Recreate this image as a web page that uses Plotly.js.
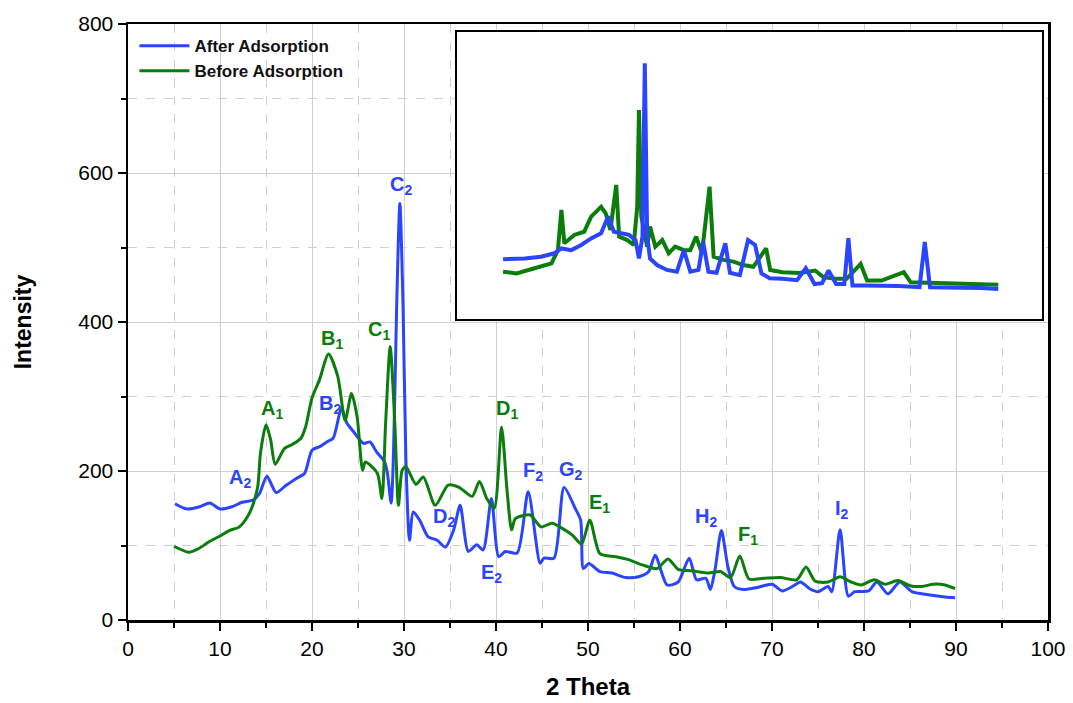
<!DOCTYPE html>
<html>
<head>
<meta charset="utf-8">
<script src="https://cdn.plot.ly/plotly-3.0.1.min.js"></script>
<style>html,body{margin:0;padding:0;background:#fff;}#chart{width:1073px;height:703px;}</style>
</head>
<body>
<div id="chart"></div>
<script>
// Main chart: After Adsorption (blue)
var afterX = [5.1,6.4,7.8,8.9,10.0,11.3,12.4,13.6,14.3,15.1,16.1,17.2,18.3,19.2,20.0,20.9,21.6,22.3,23.2,23.8,24.5,25.6,26.3,27.0,27.9,28.2,28.6,28.85,29.2,29.55,29.9,30.2,30.6,31.0,31.7,32.6,33.6,34.5,35.4,36.1,37.0,37.9,38.6,39.5,40.3,41.0,42.3,43.5,44.8,45.2,46.3,47.4,48.6,49.2,49.5,50.1,51.3,52.6,54.1,55.5,56.6,57.3,58.6,59.8,61.0,61.8,62.8,63.3,63.8,64.5,65.2,65.9,66.9,68.5,70.0,71.1,72.1,73.1,74.1,75.0,76.1,76.5,77.4,78.3,79.0,80.5,81.4,82.6,83.9,85.2,87.0,88.8,89.9];
var afterY = [156,149,152,157,149,152,158,161,170,193,171,181,190,197,228,233,239,244,284,264,253,237,239,226,212,197,157,219,420,559,420,219,107,145,134,112,107,98,121,154,92,101,94,163,85,92,90,172,76,83,83,178,150,134,69,76,65,63,57,58,65,87,47,51,83,54,56,41,67,120,72,45,41,44,48,39,44,51,42,38,45,38,121,32,38,39,51,35,51,38,34,31,30];
// Main chart: Before Adsorption (green)
var beforeX = [5.0,6.6,7.7,8.8,9.9,11.0,12.1,13.0,13.5,14.1,14.4,15.0,15.5,16.0,17.0,17.9,18.8,19.3,20.0,20.8,21.8,22.8,23.6,24.3,24.9,25.5,25.8,27.1,27.6,28.0,28.5,29.0,29.4,29.8,30.2,31.3,32.1,33.4,34.8,36.0,37.4,38.2,39.0,39.8,40.6,41.2,41.7,42.1,43.7,44.9,46.1,47.2,48.3,49.3,50.2,51.3,53.0,54.4,55.9,57.5,58.7,59.8,61.3,63.1,64.4,65.5,66.5,67.5,69.1,70.9,72.7,73.7,74.7,76.1,77.4,78.6,79.7,81.1,82.3,83.7,85.0,86.3,87.5,88.8,89.9];
var beforeY = [99,91,96,105,112,120,125,139,152,179,224,262,242,209,230,236,244,259,298,322,357,327,268,304,273,201,212,197,163,264,367,264,154,201,206,182,192,154,181,178,166,186,163,150,259,174,121,136,141,125,130,123,114,102,134,89,85,81,74,69,82,68,66,63,65,57,86,55,56,57,54,71,52,51,58,51,47,54,48,53,46,45,48,47,42];
// Inset (raw patterns, arbitrary units)
var insetAfterX = [5.1,8.8,11.6,13.9,15.1,16.8,18.5,20.2,21.9,23.1,24.1,25.6,26.7,27.8,28.4,29.0,29.4,29.8,30.3,31.5,33.2,34.9,36.1,37.2,38.6,39.4,40.3,41.7,43.2,44.0,45.7,47.1,48.3,49.4,50.8,53.0,55.5,57.0,58.5,59.8,60.9,62.2,63.6,64.3,65.0,67.0,70.0,73.0,76.5,77.4,78.3,81.0,84.0,87.0,90.0];
var insetAfterY = [208,211,217,229,246,240,258,281,299,357,304,299,293,275,211,287,891,287,211,188,171,165,240,165,171,269,165,161,264,161,153,275,258,159,142,140,135,177,122,125,169,122,122,282,117,117,117,115,111,268,111,111,110,108,105];
var insetBeforeX = [5.1,7.4,10.5,13.4,14.5,15.1,15.6,17.3,19.0,20.2,21.9,22.7,23.5,24.5,25.0,26.4,27.5,28.1,28.4,28.8,29.8,30.3,31.2,32.4,33.5,34.6,36.1,37.2,38.2,39.2,40.5,41.2,42.9,44.6,46.3,48.0,50.2,50.9,53.0,56.0,58.6,60.0,62.0,64.0,66.4,67.5,70.0,73.8,75.0,80.0,85.0,90.0];
var insetBeforeY = [165,159,177,194,240,380,264,293,304,357,391,368,310,467,287,275,258,391,728,357,252,322,252,275,229,252,240,240,287,229,461,217,206,200,188,182,246,171,163,160,169,146,140,140,192,134,134,163,128,125,122,119];
// Peak labels
var peakText = ['A<sub>1</sub>','B<sub>1</sub>','C<sub>1</sub>','D<sub>1</sub>','E<sub>1</sub>','F<sub>1</sub>',
                'A<sub>2</sub>','B<sub>2</sub>','C<sub>2</sub>','D<sub>2</sub>','E<sub>2</sub>','F<sub>2</sub>','G<sub>2</sub>','H<sub>2</sub>','I<sub>2</sub>'];
var peakX = [15.7,22.2,27.3,41.2,51.3,67.4, 12.2,22.0,29.7,34.3,39.5,44.0,48.2,62.8,77.6];
var peakY = [283,376,388,282,157,114, 190,289,583,137,62,199,201,137,148];
var peakSeries = ['before','before','before','before','before','before','after','after','after','after','after','after','after','after','after'];

var BLUE = '#2b44ff', GREEN = '#0b7d0b';

var traces = [
  {x: afterX, y: afterY, type:'scatter', mode:'lines', name:'After Adsorption',
   line:{color:BLUE, width:3, shape:'spline', smoothing:0.7}},
  {x: beforeX, y: beforeY, type:'scatter', mode:'lines', name:'Before Adsorption',
   line:{color:GREEN, width:3, shape:'spline', smoothing:0.7}},
  {x: insetBeforeX, y: insetBeforeY, type:'scatter', mode:'lines', showlegend:false,
   xaxis:'x2', yaxis:'y2', line:{color:GREEN, width:4}},
  {x: insetAfterX, y: insetAfterY, type:'scatter', mode:'lines', showlegend:false,
   xaxis:'x2', yaxis:'y2', line:{color:BLUE, width:4}}
];

var annotations = peakText.map(function(t,i){
  return {x: peakX[i], y: peakY[i], xref:'x', yref:'y', text:'<b>'+t+'</b>', showarrow:false,
          font:{family:'Liberation Sans, Arial, sans-serif', size:20, color: peakSeries[i]==='before'?GREEN:BLUE}};
});

var gridColor = '#cfcfcf';
var layout = {
  width:1073, height:703,
  margin:{l:128, r:25, t:24, b:83},
  paper_bgcolor:'#fff', plot_bgcolor:'#fff',
  showlegend:true,
  legend:{x:0.007, y:0.993, xanchor:'left', yanchor:'top', bgcolor:'rgba(0,0,0,0)',
          font:{family:'Liberation Sans, Arial, sans-serif', size:17, color:'#111', weight:'bold'},
          itemwidth:50, tracegroupgap:0},
  xaxis:{range:[0,100], dtick:10, tick0:0, showline:true, mirror:true, linecolor:'#000', linewidth:2.5,
         ticks:'outside', ticklen:8, tickwidth:2, tickcolor:'#000',
         showgrid:true, gridcolor:gridColor, gridwidth:1, zeroline:false,
         minor:{dtick:5, tick0:0, ticks:'outside', ticklen:5, tickwidth:2, tickcolor:'#000', showgrid:true, gridcolor:gridColor, griddash:'dash', gridwidth:1},
         tickfont:{family:'Liberation Sans, Arial, sans-serif', size:21, color:'#000'},
         title:{text:'<b>2 Theta</b>', standoff:20, font:{family:'Liberation Sans, Arial, sans-serif', size:24, color:'#000'}}},
  yaxis:{range:[0,800], dtick:200, tick0:0, showline:true, mirror:true, linecolor:'#000', linewidth:2.5,
         ticks:'outside', ticklen:8, tickwidth:2, tickcolor:'#000',
         showgrid:true, gridcolor:gridColor, gridwidth:1, zeroline:false,
         minor:{dtick:100, tick0:0, ticks:'outside', ticklen:5, tickwidth:2, tickcolor:'#000', showgrid:true, gridcolor:gridColor, griddash:'dash', gridwidth:1},
         tickfont:{family:'Liberation Sans, Arial, sans-serif', size:21, color:'#000'},
         title:{text:'<b>Intensity</b>', standoff:40, font:{family:'Liberation Sans, Arial, sans-serif', size:23, color:'#000'}}},
  xaxis2:{domain:[0.3576,0.9935], anchor:'y2', range:[-2.8,97.5], showline:true, mirror:true, linecolor:'#000', linewidth:1.5,
          showgrid:false, zeroline:false, showticklabels:false, ticks:''},
  yaxis2:{domain:[0.505,0.9866], anchor:'x2', range:[0,1000], showline:true, mirror:true, linecolor:'#000', linewidth:1.5,
          showgrid:false, zeroline:false, showticklabels:false, ticks:''},
  annotations: annotations
};

Plotly.newPlot('chart', traces, layout, {displayModeBar:false, staticPlot:true});
</script>
</body>
</html>
